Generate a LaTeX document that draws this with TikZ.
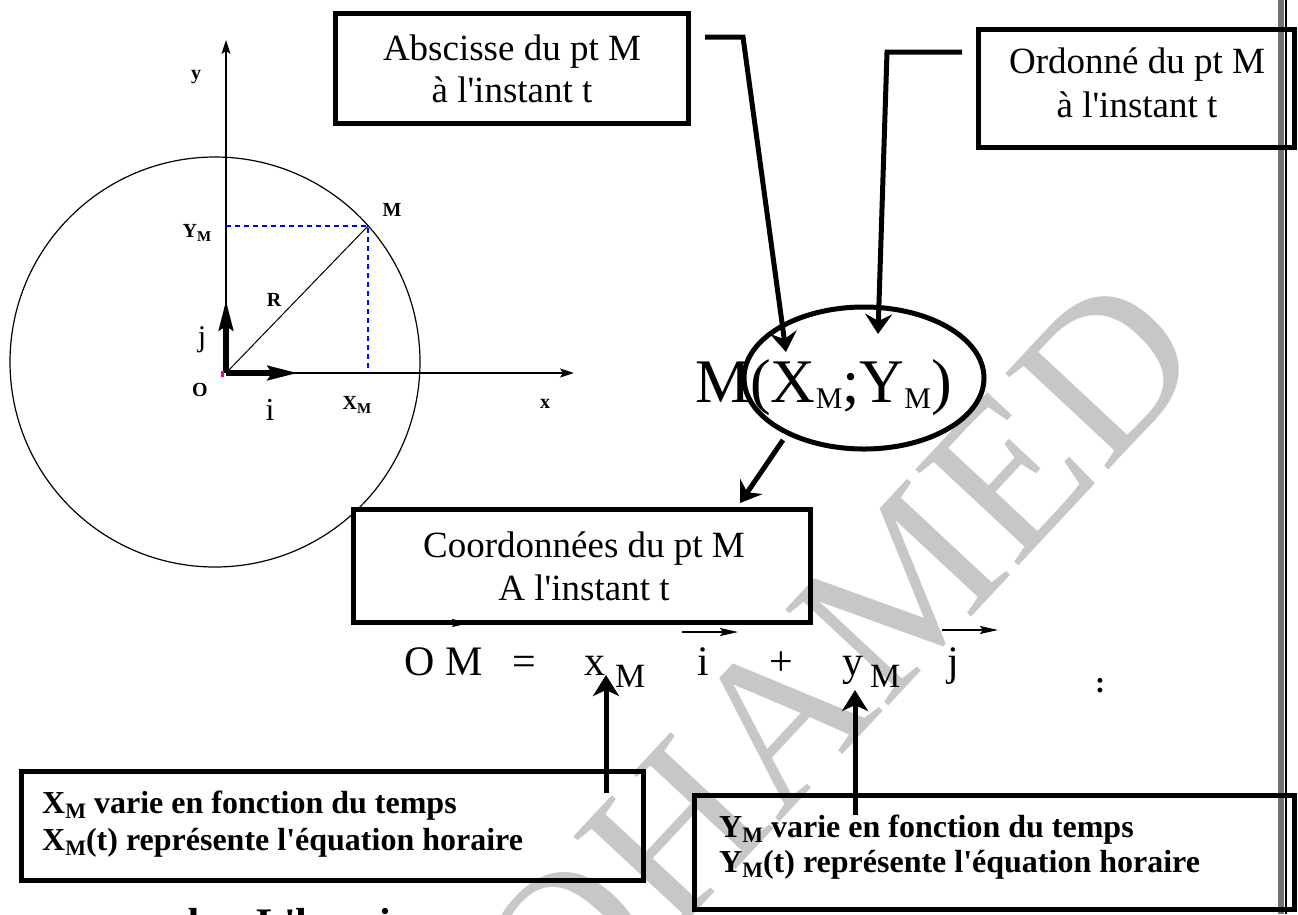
\documentclass[tikz,border=0pt]{standalone}
\usepackage{fontspec}
\setmainfont{Liberation Serif}[Ligatures=TeXOff]
\usetikzlibrary{shapes.geometric,arrows.meta}
\newcommand{\fsz}[1]{\fontsize{#1}{#1}\selectfont}
\begin{document}
\begin{tikzpicture}[x=1pt,y=-1pt,
 boxst/.style={draw, line width=5pt, inner sep=0pt},
 conn/.style={line width=5pt, -{Stealth[length=20pt,width=27pt,inset=7pt]}},
 upar/.style={line width=5pt, -{Stealth[length=21pt,width=26pt,inset=6pt]}},
 axis/.style={line width=1.4pt, -{Stealth[length=14pt,width=9pt,inset=3pt]}},
 unitv/.style={line width=6pt, -{Stealth[length=30pt,width=14pt,inset=4pt]}},
 vecar/.style={line width=2pt, -{Stealth[length=18pt,width=8pt,inset=3pt]}},
 lab/.style={font=\bfseries\fsz{20}, inner sep=0pt},
 eqt/.style={font=\fsz{42}, inner sep=0pt},
 subt/.style={font=\fsz{34}, inner sep=0pt},
 boxtxt/.style={font=\fsz{37}, inner sep=0pt, anchor=base},
 btxt/.style={font=\bfseries\fsz{32}, inner sep=0pt, anchor=base west}
]
\clip (0,0) rectangle (1298,914);
\fill[white] (0,0) rectangle (1298,914);

% watermark
\node[rotate=47, text=black!22, font=\fsz{215}, inner sep=0pt] (wm) at (772,728) {MOHAMED};

% right border
\fill[black!55] (1278,0) rectangle (1284,914);
\draw[line width=2.5pt] (1286,0) -- (1286,914);

% ---- left diagram ----
\coordinate (O) at (226,373);
\coordinate (M) at (368,226);
\coordinate (ytop) at (226,40);
\coordinate (xend) at (574,373);
\coordinate (yM) at (226,226);
\coordinate (xM) at (368,373);
\draw[line width=1.2pt] (215,362) circle (205);
\draw[axis] (O) -- (ytop);
\draw[axis] (O) -- (xend);
\draw[line width=1pt] (O) -- (M);
\draw[blue, line width=1.5pt, dash pattern=on 5pt off 4pt] (yM) -- (M) -- (xM);
\draw[unitv] (O) -- (226,300);
\draw[unitv] (O) -- (298,373);
\fill[magenta] (221,371) rectangle (224,377);
\node[lab] (ly) at (196,77) {y};
\node[lab] (lYM) at (197,233) {Y\raisebox{-4pt}{\fsz{15}M}};
\node[lab] (lM) at (392,210) {M};
\node[lab] (lR) at (274,300) {R};
\node[lab] (lO) at (200,390) {O};
\node[lab] (lXM) at (357,405) {X\raisebox{-4pt}{\fsz{15}M}};
\node[lab] (lx) at (545,404) {x};
\node[font=\fsz{30}, inner sep=0pt] (lj) at (202,340) {j};
\node[font=\fsz{32}, inner sep=0pt] (li) at (270,410) {i};

% ---- boxes ----
\node[boxst, minimum width=353pt, minimum height=110pt] (abs) at (512,68.5) {};
\node[boxtxt] at (512,60) {Abscisse du pt M};
\node[boxtxt] at (512,102) {à l'instant t};

\node[boxst, minimum width=316pt, minimum height=118pt] (ord) at (1136.5,88.5) {};
\node[boxtxt] at (1137,73) {Ordonné du pt M};
\node[boxtxt] at (1137,117) {à l'instant t};

\node[boxst, minimum width=457pt, minimum height=113pt] (coo) at (582,566) {};
\node[boxtxt] at (584,557) {Coordonnées du pt M};
\node[boxtxt] at (584,600) {A l'instant t};

\node[boxst, minimum width=622pt, minimum height=109pt] (xbox) at (332.5,826) {};
\node[btxt] at (42,813) {X\raisebox{-5pt}{\fsz{22}M} varie en fonction du temps};
\node[btxt] at (42,850) {X\raisebox{-5pt}{\fsz{22}M}(t) représente l'équation horaire};

\node[boxst, minimum width=600pt, minimum height=114pt] (ybox) at (994.5,852.5) {};
\node[btxt] at (719,837) {Y\raisebox{-5pt}{\fsz{22}M} varie en fonction du temps};
\node[btxt] at (719,872) {Y\raisebox{-5pt}{\fsz{22}M}(t) représente l'équation horaire};

% ---- M(X_M;Y_M) ----
\node[draw, ellipse, line width=5pt, minimum width=240pt, minimum height=142pt, inner sep=0pt] (ell) at (864,378) {};
\node[anchor=base west, inner sep=0pt, font=\fsz{62}] (mxy) at (695,402) {M(X\raisebox{-6pt}{\fsz{30}M};Y\raisebox{-6pt}{\fsz{30}M})};

% ---- equation ----
\node[eqt, anchor=base west] (om) at (404,675) {O M};
\node[eqt, anchor=base] (eqs) at (524,675) {=};
\node[eqt, anchor=base west] (xm) at (584,675) {x};
\node[subt, anchor=base west] (xms) at (615,687) {M};
\node[eqt, anchor=base] (iv) at (703,675) {i};
\node[eqt, anchor=base] (plus) at (781,675) {+};
\node[eqt, anchor=base west] (ym) at (842,675) {y};
\node[subt, anchor=base west] (yms) at (870,687) {M};
\node[eqt, anchor=base] (jv) at (953,675) {j};
\node[font=\bfseries\fsz{30}, inner sep=0pt, anchor=base] (colon) at (1100,692) {:};
\draw[vecar] (420,623) -- (470,623);
\draw[vecar] (682,632) -- (738,632);
\draw[vecar] (942,630) -- (998,630);

% ---- connectors ----
\coordinate (a0) at (705,37); \coordinate (a1) at (743,37); \coordinate (aT) at (786,352);
\draw[conn] (a0) -- (a1) -- (aT);
\coordinate (o0) at (962,52); \coordinate (o1) at (887,52); \coordinate (oT) at (878,334);
\draw[conn] (o0) -- (o1) -- (oT);
\coordinate (e0) at (783,440); \coordinate (cT) at (740,503);
\draw[conn] (e0) -- (cT);
\coordinate (xa0) at (606,793); \coordinate (xaT) at (606,675);
\draw[upar] (xa0) -- (xaT);
\coordinate (ya0) at (855,815); \coordinate (yaT) at (855,690);
\draw[upar] (ya0) -- (yaT);

% bottom cut-off line
\node[font=\bfseries\fsz{42}, inner sep=0pt, anchor=base west] (bl) at (188,937) {b.\hspace{34pt}L'horaire};
\end{tikzpicture}
\end{document}
